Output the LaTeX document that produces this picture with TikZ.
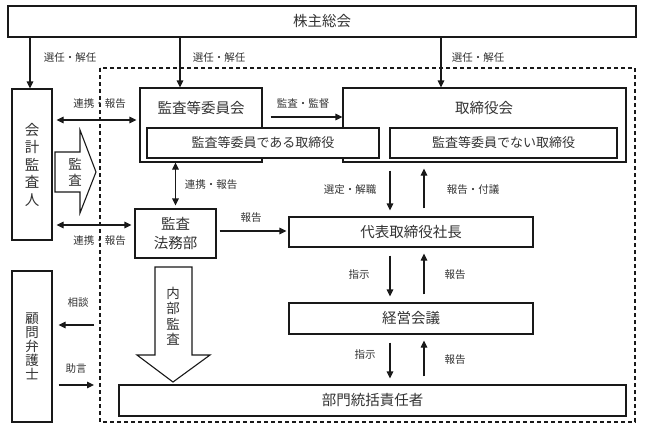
\documentclass[tikz,border=0pt]{standalone}
\usepackage{fontspec}
\setmainfont{Noto Sans CJK JP}
\usetikzlibrary{arrows.meta}
\tikzset{
  box/.style={draw, fill=white, inner sep=0pt},
  lbl/.style={font=\fontsize{10.5}{12}\selectfont, inner sep=0pt},
  arr/.style={-{Triangle[length=7pt,width=6.5pt]}},
  darr/.style={{Triangle[length=7pt,width=6.5pt]}-{Triangle[length=7pt,width=6.5pt]}},
  gap/.style={shorten <=8pt, shorten >=6pt}
}

\begin{document}
\begin{tikzpicture}[x=1pt,y=-1pt,line width=1.1pt,draw=black!90,text=black!80]
\useasboundingbox (0,0) rectangle (645,432);

% company frame
\draw[dash pattern=on 4pt off 3pt] (100,68) rectangle (635,422);

\begin{scope}[every node/.style={box,font=\fontsize{14.5}{17.5}\selectfont}]
    \node[minimum width=628pt,minimum height=31pt] (soukai) at (322,21.5) {株主総会};
    \node[minimum width=40pt,minimum height=151pt,align=center] (kaikei) at (32,164.5) {会\\計\\監\\査\\人};
    \node[minimum width=40pt,minimum height=151pt,align=center,font=\fontsize{13.5}{14}\selectfont] (komon) at (32,346.5) {顧\\問\\弁\\護\\士};
    \node[minimum width=122pt,minimum height=74pt] (iinkai) at (201,125) {};
    \node[minimum width=283pt,minimum height=74pt] (torishimari) at (484.5,125) {};
    \node[minimum width=81pt,minimum height=49pt,align=center,font=\fontsize{14.5}{19}\selectfont] (houmu) at (175.5,233.5) {監査\\法務部};
    \node[minimum width=244pt,minimum height=30pt] (shacho) at (411,232) {代表取締役社長};
    \node[minimum width=244pt,minimum height=31pt] (keiei) at (411,318.5) {経営会議};
    \node[minimum width=507pt,minimum height=31pt] (bumon) at (372.5,400.5) {部門統括責任者};
\end{scope}

\begin{scope}[every node/.style={box,font=\fontsize{13}{15}\selectfont,minimum height=30pt}]
    \node[minimum width=232pt] (toriA) at (263,143) {監査等委員である取締役};
    \node[minimum width=227pt] (toriB) at (503.5,143) {監査等委員でない取締役};
\end{scope}

\node[font=\fontsize{14.5}{17}\selectfont] (iinkaiT) at (201,108) {監査等委員会};
\node[font=\fontsize{14.5}{17}\selectfont] (torishimariT) at (484,108) {取締役会};

% block arrows
\draw[fill=white] (55,152) -- (80,152) -- (80,130) -- (96,172) -- (80,213) -- (80,192) -- (55,192) -- cycle;
\node[align=center,font=\fontsize{13.5}{16}\selectfont] (kansa) at (75,172) {監\\査};
\draw[fill=white] (155,267) -- (192,267) -- (192,355) -- (210,355) -- (173,382) -- (137,355) -- (155,355) -- cycle;
\node[align=center,font=\fontsize{13.5}{15.5}\selectfont] (naibu) at (173,316) {内\\部\\監\\査};

% election
\draw[arr] (soukai.south -| 30,0) -- (kaikei.north -| 30,0);
\draw[arr] (soukai.south -| 180,0) -- (iinkai.north -| 180,0);
\draw[arr] (soukai.south -| 441,0) -- (torishimari.north -| 441,0);
\node[lbl] (sennin1) at (70,58) {選任・解任};
\node[lbl] (sennin2) at (219,58) {選任・解任};
\node[lbl] (sennin3) at (478,58) {選任・解任};

% cooperation
\draw[darr,shorten <=4pt,shorten >=3pt] (kaikei.east |- 0,120) -- (iinkai.west |- 0,120);
\node[lbl] (renkei1) at (99.5,104) {連携・報告};
\draw[darr,shorten <=4pt,shorten >=3pt] (kaikei.east |- 0,225) -- (houmu.west |- 0,225);
\node[lbl] (renkei2) at (99.5,241) {連携・報告};
\draw[darr,shorten >=3pt] (iinkai.south -| houmu) -- (houmu.north);
\node[lbl] (renkei3) at (211,185) {連携・報告};

\draw[arr,shorten <=8pt] (iinkai.east |- 0,117) -- (torishimari.west |- 0,117);
\node[lbl] (kantoku) at (303,104) {監査・監督};
\draw[arr,shorten <=3pt,shorten >=2pt] (houmu.east |- 0,231) -- (shacho.west |- 0,231);
\node[lbl] (houkoku1) at (251,218) {報告};

% line of command
\draw[arr,gap] (torishimari.south -| 390,0) -- (shacho.north -| 390,0);
\draw[arr,gap] (shacho.north -| 424,0) -- (torishimari.south -| 424,0);
\node[lbl] (sentei) at (350,190) {選定・解職};
\node[lbl] (fugi) at (473,190) {報告・付議};
\draw[arr,gap] (shacho.south -| 390,0) -- (keiei.north -| 390,0);
\draw[arr,gap] (keiei.north -| 424,0) -- (shacho.south -| 424,0);
\node[lbl] (shiji1) at (359,275) {指示};
\node[lbl] (houkoku2) at (455,275) {報告};
\draw[arr,gap] (keiei.south -| 390,0) -- (bumon.north -| 390,0);
\draw[arr,gap] (bumon.north -| 424,0) -- (keiei.south -| 424,0);
\node[lbl] (shiji2) at (365,355) {指示};
\node[lbl] (houkoku3) at (455,360) {報告};

% lawyer
\coordinate (soudanE) at (94,325);
\coordinate (jogenE) at (94,385);
\draw[arr,shorten >=6pt] (soudanE) -- (komon.east |- soudanE);
\draw[arr,shorten <=6pt] (komon.east |- jogenE) -- (jogenE);
\node[lbl] (soudan) at (78,303) {相談};
\node[lbl] (jogen) at (76,369) {助言};

\end{tikzpicture}
\end{document}
